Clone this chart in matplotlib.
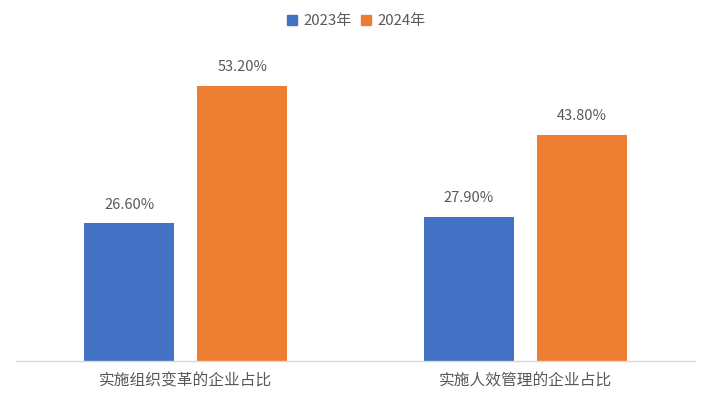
import matplotlib
matplotlib.use("Agg")
import matplotlib.pyplot as plt
from matplotlib.patches import Patch
import numpy as np

plt.rcParams['font.family'] = ['Noto Sans CJK SC', 'DejaVu Sans']

categories = ["实施组织变革的企业占比", "实施人效管理的企业占比"]
series_names = ["2023年", "2024年"]
values_2023 = [26.6, 27.9]
values_2024 = [53.2, 43.8]
colors = ["#4472C4", "#ED7D31"]
text_color = "#595959"

W, H = 710, 396
fig = plt.figure(figsize=(W / 100, H / 100), dpi=100)
ax = fig.add_axes([16 / W, (H - 361) / H, (695 - 16) / W, (361 - 40.5) / H])

x = np.arange(len(categories))
bw = 0.265
off = 0.1664
for vals, c, o in [(values_2023, colors[0], -off), (values_2024, colors[1], off)]:
    bars = ax.bar(x + o, vals, width=bw, color=c, zorder=2)
    for b, v in zip(bars, vals):
        ax.annotate(f"{v:.2f}%", (b.get_x() + b.get_width() / 2, v),
                    xytext=(0, 8.5), textcoords="offset points",
                    ha="center", va="bottom", fontsize=10.5, color=text_color)

ax.set_xlim(-0.5, 1.5)
ax.set_ylim(0, 62)
ax.set_yticks([])
ax.set_xticks(x)
ax.set_xticklabels(categories, fontsize=11.3, color=text_color)
ax.tick_params(axis='x', length=0, pad=8.5)
for s in ["top", "right", "left"]:
    ax.spines[s].set_visible(False)
ax.spines["bottom"].set_color("#D9D9D9")
ax.spines["bottom"].set_linewidth(1)

handles = [Patch(color=c, label=n) for c, n in zip(colors, series_names)]
fig.legend(handles=handles, loc="center", bbox_to_anchor=(356 / W, 1 - 21 / H),
           ncol=2, frameon=False, fontsize=10.8, labelcolor=text_color,
           handlelength=0.7, handleheight=0.7, handletextpad=0.4, columnspacing=0.6)

fig.savefig("out.png", dpi=100)
